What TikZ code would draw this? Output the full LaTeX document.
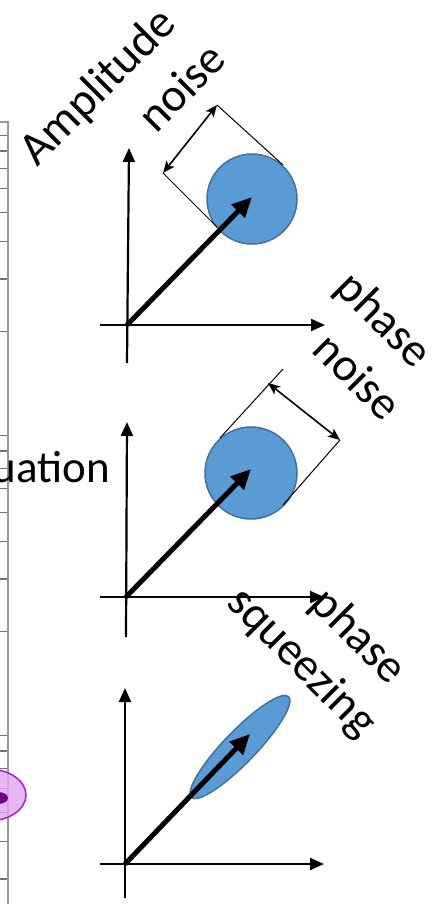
\documentclass[tikz,border=0pt]{standalone}
\usepackage{fontspec}
\setmainfont{Carlito}
\usetikzlibrary{arrows.meta}

\definecolor{quadfill}{HTML}{5B9BD5}
\definecolor{quadedge}{HTML}{41719C}
\definecolor{plotgray}{RGB}{150,150,150}
\definecolor{tickgray}{RGB}{115,115,115}
\definecolor{wigfill}{RGB}{225,165,240}
\definecolor{wigedge}{RGB}{170,30,210}
\definecolor{wigcore}{RGB}{110,0,130}

\tikzset{
  quadaxis/.style={line width=2.2pt, -{Triangle[length=14pt,width=12pt]}},
  phasor/.style={line width=5pt, -{Triangle[length=20pt,width=18pt]}},
  spread/.style={fill=quadfill, draw=quadedge, line width=1.5pt},
  guide/.style={line width=1pt},
  gauge/.style={line width=1.6pt, {Stealth[length=12pt,width=10pt,inset=3pt]}-{Stealth[length=12pt,width=10pt,inset=3pt]}},
  word/.style={font=\fontsize{47}{54}\selectfont, inner sep=0pt}
}

\begin{document}
\begin{tikzpicture}[x=1pt, y=-1pt]
    \useasboundingbox (0,0) rectangle (438,904);

    % Log axis of the plot behind, cut at the left edge
    \draw[plotgray, line width=2pt] (0,122) -- (7.5,122) -- (7.5,904);
    \foreach \d in {122,422,722}
        \foreach \k in {2,...,9}
            \draw[tickgray, line width=1.3pt] (0,{\d+300*(1-ln(\k)/ln(10))}) -- (7,{\d+300*(1-ln(\k)/ln(10))});

    % Purple blob on the axis
    \filldraw[fill=wigfill, draw=wigedge, line width=1.5pt, fill opacity=0.8] (-12,795) ellipse (38 and 26);
    \fill[wigcore] (-2,798) ellipse (10 and 6);

    % Labels
    \node[word, rotate=45] (amp) at (99,88) {Amplitude};
    \node[word, rotate=45] (ampnoise) at (181,87) {noise};
    \node[word, font=\fontsize{45}{52}\selectfont, anchor=base east] (eqn) at (110,482) {uation};
    \node[word, rotate=-45] (phase1) at (383,321) {phase};
    \node[word, rotate=-45] (phasenoise) at (358,376) {noise};
    \node[word, rotate=-45] (phase2) at (358,637) {phase};
    \node[word, rotate=-45] (squeeze) at (301,663) {squeezing};

    % Amplitude noise
    \begin{scope}[shift={(127,325)}]
        \coordinate (o1) at (0,0);
        \draw[quadaxis] (0,38) -- (2,-177);
        \draw[quadaxis] (-27,0) -- (198,0);
        \filldraw[spread] (125,-126) circle (45);
        \draw[phasor] (o1) -- (125,-128);

        \coordinate (a1) at (36,-152);
        \coordinate (b1) at (90,-220);
        \draw[guide] (a1) -- (90,-98);
        \draw[guide] (b1) -- (156,-160);
        \draw[gauge] (a1) -- (b1);
    \end{scope}

    % Phase noise
    \begin{scope}[shift={(126,597)}]
        \coordinate (o2) at (0,0);
        \draw[quadaxis] (0,40) -- (1,-175);
        \draw[quadaxis] (-26,0) -- (198,0);
        \filldraw[spread] (125,-124) circle (46);
        \draw[phasor] (o2) -- (125,-128);

        \coordinate (a2) at (142,-214);
        \coordinate (b2) at (214,-157);
        \draw[guide] (94,-159) -- (157,-228);
        \draw[guide] (157,-92) -- (b2);
        \draw[gauge] (a2) -- (b2);
    \end{scope}

    % Phase squeezing
    \begin{scope}[shift={(125,864)}]
        \coordinate (o3) at (0,0);
        \draw[quadaxis] (0,34) -- (0,-176);
        \draw[quadaxis] (-25,0) -- (199,0);
        \filldraw[spread, rotate around={46:(115,-117)}] (115,-117) ellipse (70 and 16);
        \draw[phasor] (o3) -- (125,-130);
    \end{scope}

\end{tikzpicture}
\end{document}
